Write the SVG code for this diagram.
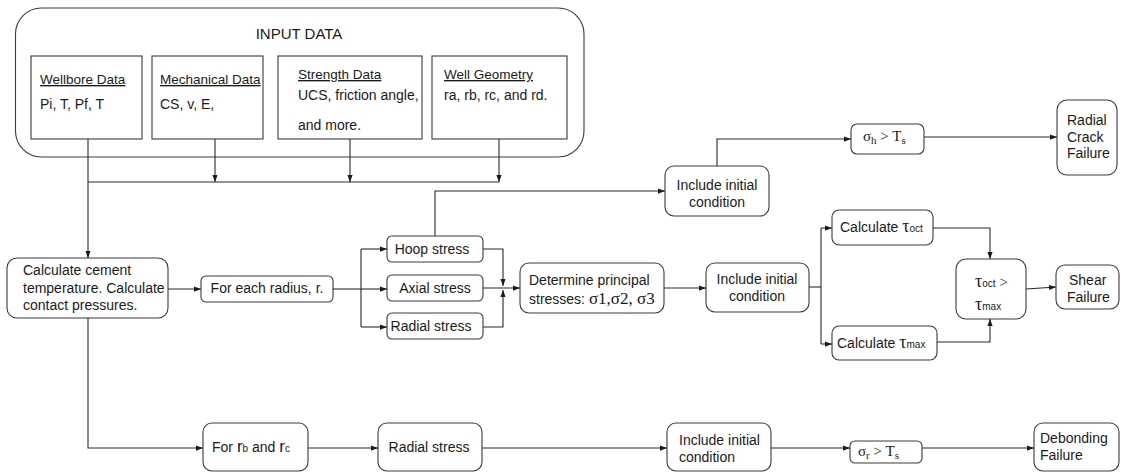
<svg xmlns="http://www.w3.org/2000/svg" width="1122" height="472" viewBox="0 0 1122 472">
<defs>
<marker id="ah" viewBox="0 0 8 6" refX="8" refY="3" markerWidth="7" markerHeight="6" orient="auto" markerUnits="userSpaceOnUse"><path d="M0,0 L8,3 L0,6 z" fill="#1a1a1a"/></marker>
<style>
.box{fill:#fff;stroke:#3a3a3a;stroke-width:1.1}
.in{fill:#fff;stroke:#3a3a3a;stroke-width:1.1}
.c{fill:none;stroke:#2a2a2a;stroke-width:1.1}
.ca{fill:none;stroke:#2a2a2a;stroke-width:1.1;marker-end:url(#ah)}
text{font-family:"Liberation Sans",Arial,sans-serif;font-size:14px;fill:#1a1a1a}
.t{font-size:13.5px}
.m{text-anchor:middle}
.s{font-family:"Liberation Serif","DejaVu Serif",serif}
.u{text-decoration:underline}
</style>
</defs>
<rect width="1122" height="472" fill="#fff"/>

<g id="input-data">
<rect x="15.5" y="8" width="568.5" height="149" rx="26" class="box"/>
<text x="299" y="39" class="m" style="font-size:15px">INPUT DATA</text>
</g>
<g id="wellbore-data">
<rect x="31" y="56" width="111" height="83" class="in"/>
<text x="40" y="84" class="t u">Wellbore Data</text>
<text x="40" y="109">Pi, T, Pf, T</text>
</g>
<g id="mechanical-data">
<rect x="152" y="56" width="111" height="83" class="in"/>
<text x="160" y="84" class="t u">Mechanical Data</text>
<text x="160" y="109">CS, v, E,</text>
</g>
<g id="strength-data">
<rect x="278" y="56" width="144" height="83" class="in"/>
<text x="298" y="79" class="t u">Strength Data</text>
<text x="298" y="100">UCS, friction angle,</text>
<text x="298" y="130">and more.</text>
</g>
<g id="well-geometry">
<rect x="432" y="56" width="135" height="83" class="in"/>
<text x="444" y="79" class="t u">Well Geometry</text>
<text x="444" y="100">ra, rb, rc, and rd.</text>
</g>

<g id="connectors">
<path d="M88,139 V258" class="ca"/>
<path d="M88,182 H499" class="c"/>
<path d="M215,139 V182" class="ca"/>
<path d="M350,139 V182" class="ca"/>
<path d="M499,139 V182" class="ca"/>
<path d="M168,289 H201" class="ca"/>
<path d="M333,289 H361" class="c"/>
<path d="M361,249 V327" class="c"/>
<path d="M361,249 H387" class="ca"/>
<path d="M361,289 H387" class="ca"/>
<path d="M361,327 H387" class="ca"/>
<path d="M435,236 V191 H665" class="ca"/>
<path d="M483,249 H503 V286" class="ca"/>
<path d="M483,327 H503 V290" class="ca"/>
<path d="M483,288 H520" class="ca"/>
<path d="M664,288 H706" class="ca"/>
<path d="M809,287 H821" class="c"/>
<path d="M821,228 V344" class="c"/>
<path d="M821,228 H832" class="ca"/>
<path d="M821,344 H832" class="ca"/>
<path d="M933,228 H990 V259" class="ca"/>
<path d="M937,342 H990 V319" class="ca"/>
<path d="M1026,289 L1056,287" class="ca"/>
<path d="M717,166 V139 H851" class="ca"/>
<path d="M924,137 H1057" class="ca"/>
<path d="M88,318 V448 H203" class="ca"/>
<path d="M308,448 H378" class="ca"/>
<path d="M482,448 H667" class="ca"/>
<path d="M771,448 H850" class="ca"/>
<path d="M922,448 H1034" class="ca"/>
</g>

<g id="calc-cement">
<rect x="7" y="258" width="161" height="60" rx="10" class="box"/>
<text x="23" y="275">Calculate cement</text>
<text x="23" y="293">temperature. Calculate</text>
<text x="23" y="310">contact pressures.</text>
</g>
<g id="for-each-radius">
<rect x="201" y="276" width="132" height="26" rx="5" class="box"/>
<text x="267" y="293" class="m">For each radius, r.</text>
</g>
<g id="hoop-stress">
<rect x="387" y="236" width="96" height="26" rx="5" class="box"/>
<text x="432" y="254" class="m">Hoop stress</text>
</g>
<g id="axial-stress">
<rect x="387" y="275" width="96" height="26" rx="5" class="box"/>
<text x="435" y="293" class="m">Axial stress</text>
</g>
<g id="radial-stress">
<rect x="387" y="313" width="96" height="26" rx="5" class="box"/>
<text x="431" y="331" class="m">Radial stress</text>
</g>
<g id="principal-stresses">
<rect x="520" y="263" width="144" height="50" rx="9" class="box"/>
<text x="529" y="285">Determine principal</text>
<text x="529" y="304">stresses: <tspan class="s" style="font-size:17px">σ1,σ2, σ3</tspan></text>
</g>
<g id="include-initial-mid">
<rect x="706" y="263" width="103" height="49" rx="9" class="box"/>
<text x="757" y="284" class="m">Include initial</text>
<text x="757" y="301" class="m">condition</text>
</g>
<g id="include-initial-top">
<rect x="665" y="166" width="104" height="50" rx="9" class="box"/>
<text x="717" y="190" class="m">Include initial</text>
<text x="717" y="207" class="m">condition</text>
</g>
<g id="sigma-h">
<rect x="851" y="124" width="73" height="30" rx="6" class="box"/>
<text x="863" y="141" class="s" style="font-size:15px">σ<tspan dy="3" style="font-size:11px">h</tspan><tspan dy="-3"> &gt;  T</tspan><tspan dy="3" style="font-size:11px">s</tspan></text>
</g>
<g id="radial-crack-failure">
<rect x="1057" y="100" width="60" height="75" rx="10" class="box"/>
<text x="1067" y="125">Radial</text>
<text x="1067" y="142">Crack</text>
<text x="1067" y="158">Failure</text>
</g>
<g id="calc-tau-oct">
<rect x="832" y="210" width="101" height="35" rx="7" class="box"/>
<text x="840" y="232">Calculate <tspan class="s" style="font-size:18px">τ</tspan><tspan style="font-size:10px">oct</tspan></text>
</g>
<g id="calc-tau-max">
<rect x="832" y="326" width="105" height="34" rx="7" class="box"/>
<text x="837" y="348">Calculate <tspan class="s" style="font-size:18px">τ</tspan><tspan style="font-size:10px">max</tspan></text>
</g>
<g id="tau-compare">
<rect x="956" y="259" width="70" height="60" rx="10" class="box"/>
<text x="975" y="287"><tspan class="s" style="font-size:18px">τ</tspan><tspan style="font-size:10px">oct</tspan> <tspan class="s" style="font-size:15px">&gt;</tspan></text>
<text x="975" y="310"><tspan class="s" style="font-size:18px">τ</tspan><tspan style="font-size:10px">max</tspan></text>
</g>
<g id="shear-failure">
<rect x="1056" y="265" width="63" height="44" rx="9" class="box"/>
<text x="1069" y="285">Shear</text>
<text x="1067" y="302">Failure</text>
</g>
<g id="for-rb-rc">
<rect x="203" y="423" width="105" height="48" rx="9" class="box"/>
<text x="212" y="452">For <tspan style="font-size:17px">r</tspan><tspan style="font-size:10px">b</tspan> and <tspan style="font-size:17px">r</tspan><tspan style="font-size:10px">c</tspan></text>
</g>
<g id="radial-stress-bottom">
<rect x="378" y="423" width="104" height="48" rx="9" class="box"/>
<text x="429" y="452" class="m">Radial stress</text>
</g>
<g id="include-initial-bottom">
<rect x="667" y="423" width="104" height="48" rx="9" class="box"/>
<text x="679" y="445">Include initial</text>
<text x="679" y="462">condition</text>
</g>
<g id="sigma-r">
<rect x="850" y="441" width="72" height="22" rx="5" class="box"/>
<text x="858" y="456" class="s" style="font-size:15px">σ<tspan dy="3" style="font-size:11px">r</tspan><tspan dy="-3"> &gt;  T</tspan><tspan dy="3" style="font-size:11px">s</tspan></text>
</g>
<g id="debonding-failure">
<rect x="1034" y="423" width="85" height="48" rx="9" class="box"/>
<text x="1040" y="443">Debonding</text>
<text x="1040" y="460">Failure</text>
</g>
</svg>
